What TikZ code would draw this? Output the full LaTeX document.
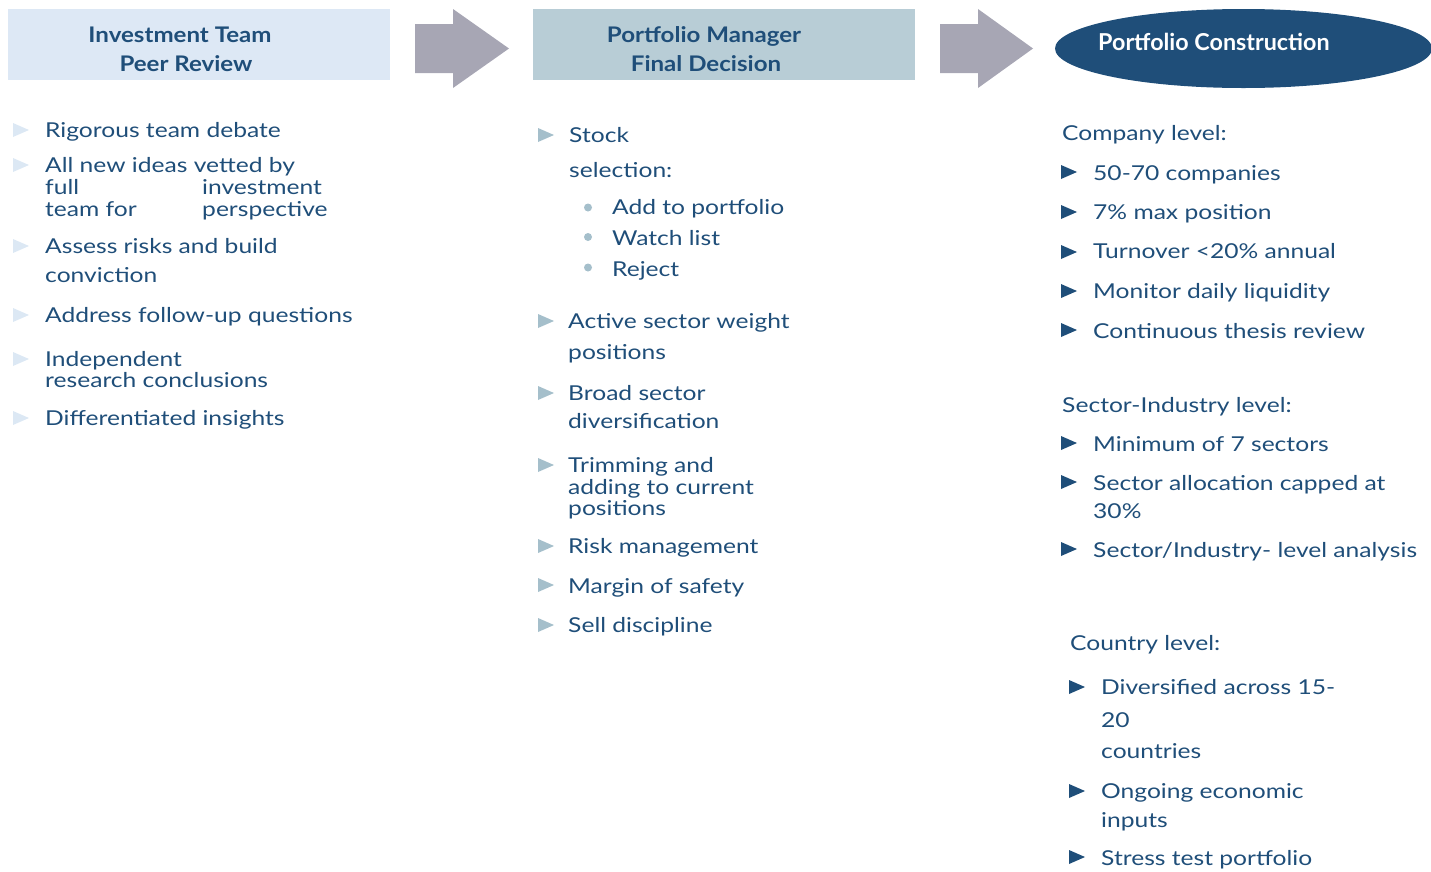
\documentclass[tikz,border=0pt]{standalone}
\usepackage{fontspec}
\setmainfont{Lato}
\newfontfamily\bodyfont[FakeStretch=1.2]{Lato}
\newfontfamily\hdrfont[FakeStretch=1.12]{Lato}
\definecolor{txtc}{HTML}{1F4E79}
\definecolor{hdrA}{HTML}{DDE8F5}
\definecolor{hdrB}{HTML}{B8CDD6}
\definecolor{arrc}{HTML}{A7A6B4}
\definecolor{bulA}{HTML}{DCE8F4}
\definecolor{bulB}{HTML}{A5BFCB}
\definecolor{ellc}{HTML}{1F4E79}
\newcommand\mybul[3]{\fill[#3] (#1,#2-7) -- (#1+16,#2) -- (#1,#2+7) -- cycle;}
\tikzset{
  txt/.style={anchor=base west, inner sep=0pt, text=txtc, font=\bodyfont\fontsize{20.5}{24}\selectfont},
  hdr/.style={anchor=base, inner sep=0pt, text=txtc, font=\hdrfont\fontsize{21.5}{25}\selectfont\bfseries},
}
\begin{document}
\begin{tikzpicture}[x=1pt,y=-1pt]
\useasboundingbox (0,0) rectangle (1431,871);
\begin{scope}
\clip (0,0) rectangle (1431,871);
% header boxes
\fill[hdrA] (8,9) rectangle (390,80);
\fill[hdrB] (533,9) rectangle (915,80);
\node[hdr] (h1a) at (180,42) {Investment Team};
\node[hdr] (h1b) at (186,71) {Peer Review};
\node[hdr] (h2a) at (704,42) {Portfolio Manager};
\node[hdr] (h2b) at (706,71) {Final Decision};
% arrows
\fill[arrc] (415,24) -- (453,24) -- (453,9) -- (509,48.5) -- (453,88) -- (453,73) -- (415,73) -- cycle;
\fill[arrc] (940,24) -- (978,24) -- (978,9) -- (1033,48.5) -- (978,88) -- (978,73) -- (940,73) -- cycle;
% ellipse
\fill[ellc] (1243.5,48.5) ellipse [x radius=188.5, y radius=39.5];
\node[anchor=base west, inner sep=0pt, text=white, font=\fontsize{23.3}{28}\selectfont\bfseries] (h3) at (1098,50) {Portfolio Construction};
\end{scope}
% column 1
\mybul{13}{130}{bulA}
\mybul{13}{165}{bulA}
\mybul{13}{246}{bulA}
\mybul{13}{315}{bulA}
\mybul{13}{359}{bulA}
\mybul{13}{418}{bulA}
\node[txt] (a1) at (45,137) {Rigorous team debate};
\node[txt] (a2) at (45,172) {All new ideas vetted by};
\node[txt] (a2b) at (45,194) {full};
\node[txt] (a2c) at (202,194) {investment};
\node[txt] (a2d) at (45,216) {team for};
\node[txt] (a2e) at (202,216) {perspective};
\node[txt] (a3) at (45,253) {Assess risks and build};
\node[txt] (a3b) at (45,282) {conviction};
\node[txt] (a4) at (45,322) {Address follow-up questions};
\node[txt] (a5) at (45,366) {Independent};
\node[txt] (a5b) at (45,387) {research conclusions};
\node[txt] (a6) at (45,425) {Differentiated insights};
% column 2
\mybul{538}{135}{bulB}
\mybul{538}{321}{bulB}
\mybul{538}{393}{bulB}
\mybul{538}{465}{bulB}
\mybul{538}{546}{bulB}
\mybul{538}{585}{bulB}
\mybul{538}{625}{bulB}
\node[txt] (b1) at (569,142) {Stock};
\node[txt] (b1b) at (569,177) {selection:};
\fill[bulB] (588,207.5) circle (4);
\fill[bulB] (588,237) circle (4);
\fill[bulB] (588,267.5) circle (4);
\node[txt] (b1c) at (612,214) {Add to portfolio};
\node[txt] (b1d) at (612,245) {Watch list};
\node[txt] (b1e) at (612,276) {Reject};
\node[txt] (b2) at (568,328) {Active sector weight};
\node[txt] (b2b) at (568,359) {positions};
\node[txt] (b3) at (568,400) {Broad sector};
\node[txt] (b3b) at (568,428) {diversification};
\node[txt] (b4) at (568,472) {Trimming and};
\node[txt] (b4b) at (568,494) {adding to current};
\node[txt] (b4c) at (568,515) {positions};
\node[txt] (b5) at (568,553) {Risk management};
\node[txt] (b6) at (568,593) {Margin of safety};
\node[txt] (b7) at (568,632) {Sell discipline};
% column 3
\node[txt] (c0) at (1062,140) {Company level:};
\mybul{1061}{172}{txtc}
\mybul{1061}{212}{txtc}
\mybul{1061}{252}{txtc}
\mybul{1061}{291}{txtc}
\mybul{1061}{330}{txtc}
\node[txt] (c1) at (1093,180) {50-70 companies};
\node[txt] (c2) at (1093,219) {7\% max position};
\node[txt] (c3) at (1093,258) {Turnover <20\% annual};
\node[txt] (c4) at (1093,298) {Monitor daily liquidity};
\node[txt] (c5) at (1093,338) {Continuous thesis review};
\node[txt] (d0) at (1062,412) {Sector-Industry level:};
\mybul{1061}{443}{txtc}
\mybul{1061}{482}{txtc}
\mybul{1061}{549}{txtc}
\node[txt] (d1) at (1093,451) {Minimum of 7 sectors};
\node[txt] (d2) at (1093,490) {Sector allocation capped at};
\node[txt] (d2b) at (1093,518) {30\%};
\node[txt] (d3) at (1093,557) {Sector/Industry- level analysis};
\node[txt] (e0) at (1070,650) {Country level:};
\mybul{1069}{687}{txtc}
\mybul{1069}{791}{txtc}
\mybul{1069}{857}{txtc}
\node[txt] (e1) at (1101,694) {Diversified across 15-};
\node[txt] (e1b) at (1101,727) {20};
\node[txt] (e1c) at (1101,758) {countries};
\node[txt] (e2) at (1101,798) {Ongoing economic};
\node[txt] (e2b) at (1101,827) {inputs};
\node[txt] (e3) at (1101,865) {Stress test portfolio};
\end{tikzpicture}
\end{document}
